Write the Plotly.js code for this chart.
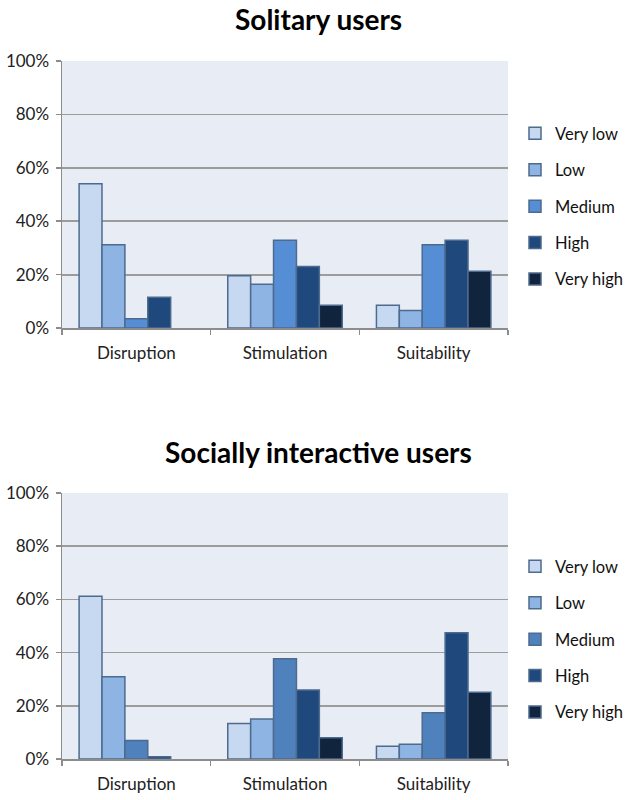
<!DOCTYPE html>
<html>
<head>
<meta charset="utf-8">
<script src="https://cdn.plot.ly/plotly-3.0.1.min.js"></script>
<style>html,body{margin:0;padding:0;background:#fff;}#chart{width:633px;height:800px;}</style>
</head>
<body>
<div id="chart"></div>
<script>
// ---- data ----
const categories = ["Disruption", "Stimulation", "Suitability"];
const levels = ["Very low", "Low", "Medium", "High", "Very high"];
const titleTop = "Solitary users";
const titleBottom = "Socially interactive users";
const yTickVals = [0, 0.2, 0.4, 0.6, 0.8, 1.0];
const yTickText = ["0%", "20%", "40%", "60%", "80%", "100%"];

// Solitary users (fractions)
const solVeryLow  = [0.54, 0.196, 0.085];
const solLow      = [0.312, 0.164, 0.066];
const solMedium   = [0.035, 0.329, 0.312];
const solHigh     = [0.115, 0.23, 0.329];
const solVeryHigh = [null, 0.085, 0.213];

// Socially interactive users (fractions)
const socVeryLow  = [0.612, 0.133, 0.048];
const socLow      = [0.309, 0.15, 0.055];
const socMedium   = [0.07, 0.377, 0.174];
const socHigh     = [0.008, 0.259, 0.475];
const socVeryHigh = [null, 0.08, 0.251];

// ---- styles ----
const colorsTop = ["#c6d9f1", "#8db4e2", "#558ed5", "#1f497d", "#10243e"];
const colorsBottom = ["#c6d9f1", "#8db4e2", "#4f81bd", "#1f497d", "#10243e"];
const borderColor = "#4d6a8f";
const FONT = "Lato, 'Open Sans', sans-serif";

const solSeries = [solVeryLow, solLow, solMedium, solHigh, solVeryHigh];
const socSeries = [socVeryLow, socLow, socMedium, socHigh, socVeryHigh];

const traces = [];
solSeries.forEach((vals, i) => {
  traces.push({
    type: "bar", x: categories, y: vals, name: levels[i],
    xaxis: "x", yaxis: "y", legend: "legend", legendgroup: "t" + i,
    marker: {color: colorsTop[i], line: {color: borderColor, width: 1.5}},
    hoverinfo: "skip"
  });
});
socSeries.forEach((vals, i) => {
  traces.push({
    type: "bar", x: categories, y: vals, name: levels[i],
    xaxis: "x2", yaxis: "y2", legend: "legend2", legendgroup: "b" + i,
    marker: {color: colorsBottom[i], line: {color: borderColor, width: 1.5}},
    hoverinfo: "skip"
  });
});

const H = 800, W = 633, L = 62, R = 125;
const pw = W - L - R;
function py(p) { return 1 - p / H; }

const xCommon = {
  type: "category", showline: true, linecolor: "#8c8c8c", linewidth: 1.5,
  ticks: "outside", tickson: "boundaries", ticklen: 5, tickcolor: "#8c8c8c", tickwidth: 1.5,
  tickfont: {family: FONT, size: 17, color: "#222"}, ticklabelstandoff: 9,
  showgrid: false, zeroline: false, automargin: false, fixedrange: true
};
const yCommon = {
  range: [0, 1], tickvals: yTickVals, ticktext: yTickText,
  showline: true, linecolor: "#8c8c8c", linewidth: 1.5,
  ticks: "outside", ticklen: 5, tickcolor: "#8c8c8c", tickwidth: 1.5,
  showgrid: true, gridcolor: "#9c9c9c", gridwidth: 1.8, zeroline: false,
  tickfont: {family: FONT, size: 17, color: "#222"}, ticklabelstandoff: 3,
  automargin: false, fixedrange: true
};

const legendCommon = {
  xanchor: "left", yanchor: "top", bgcolor: "rgba(0,0,0,0)",
  font: {family: FONT, size: 16.5, color: "#111"}, tracegroupgap: 12,
  itemwidth: 30, traceorder: "grouped", itemclick: false, itemdoubleclick: false
};

const layout = {
  width: W, height: H,
  margin: {l: L, r: R, t: 0, b: 0, autoexpand: false},
  paper_bgcolor: "#ffffff", plot_bgcolor: "#e8edf5",
  barmode: "group", bargap: 0.23, bargroupgap: 0,
  showlegend: true,
  xaxis: Object.assign({}, xCommon, {anchor: "y"}),
  yaxis: Object.assign({}, yCommon, {domain: [py(328), py(61)], anchor: "x"}),
  xaxis2: Object.assign({}, xCommon, {anchor: "y2"}),
  yaxis2: Object.assign({}, yCommon, {domain: [py(759), py(493)], anchor: "x2"}),
  legend: Object.assign({}, legendCommon, {x: (515 - L) / pw, y: py(116)}),
  legend2: Object.assign({}, legendCommon, {x: (515 - L) / pw, y: py(549)}),
  annotations: [
    {text: "<b>" + titleTop + "</b>", xref: "paper", yref: "paper", x: (318 - L) / pw, y: py(19),
     xanchor: "center", yanchor: "middle", showarrow: false,
     font: {family: FONT, size: 28, color: "#000"}},
    {text: "<b>" + titleBottom + "</b>", xref: "paper", yref: "paper", x: (318 - L) / pw, y: py(452),
     xanchor: "center", yanchor: "middle", showarrow: false,
     font: {family: FONT, size: 28, color: "#000"}}
  ]
};

Plotly.newPlot("chart", traces, layout, {displayModeBar: false, staticPlot: true});
</script>
</body>
</html>
